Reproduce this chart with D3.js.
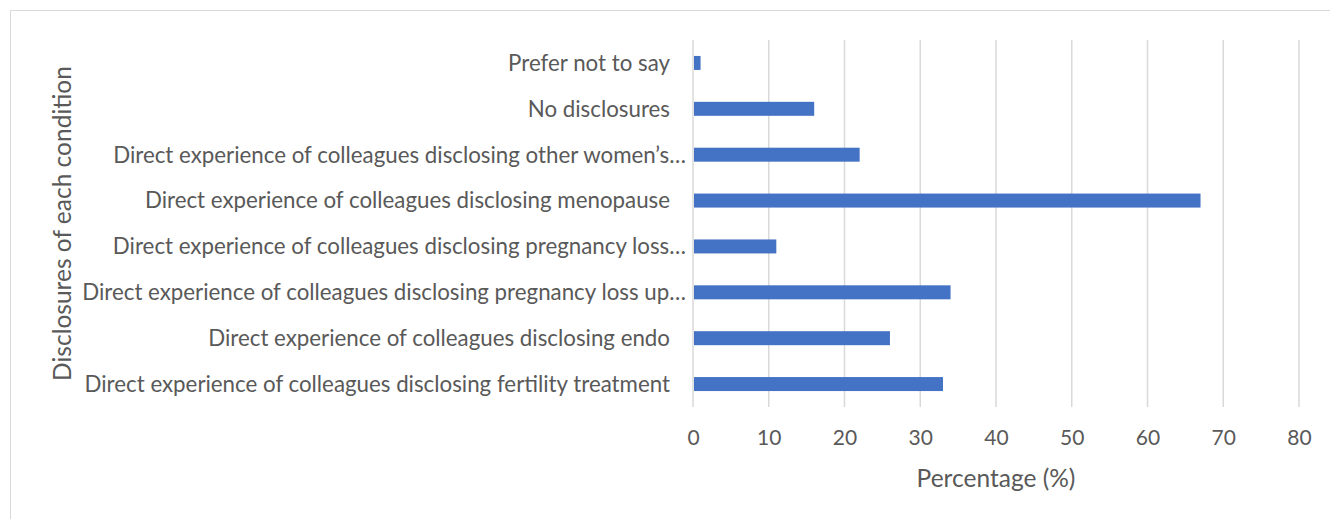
<!DOCTYPE html>
<html>
<head>
<meta charset="utf-8">
<script src="https://cdn.jsdelivr.net/npm/d3@7"></script>
<style>
  html, body { margin: 0; padding: 0; background: #fff; }
  svg { display: block; }
  text { font-family: Lato, "Open Sans", sans-serif; fill: #595959; }
</style>
</head>
<body>
<svg id="chart" width="1330" height="519"></svg>
<script>
// Survey categories, listed top to bottom as drawn
const categories = [
  "Prefer not to say",
  "No disclosures",
  "Direct experience of colleagues disclosing other women’s…",
  "Direct experience of colleagues disclosing menopause",
  "Direct experience of colleagues disclosing pregnancy loss…",
  "Direct experience of colleagues disclosing pregnancy loss up…",
  "Direct experience of colleagues disclosing endo",
  "Direct experience of colleagues disclosing fertility treatment"
];
// Percentage of respondents for each category
const percentages = [1, 16, 22, 67, 11, 34, 26, 33];
const xTicks = [0, 10, 20, 30, 40, 50, 60, 70, 80];
const xTitle = "Percentage (%)";
const yTitle = "Disclosures of each condition";

const svg = d3.select("#chart");
const W = 1330, H = 519;
const plot = { left: 693, right: 1299, top: 40, bottom: 407 };

// Chart frame
svg.append("rect")
  .attr("x", 10.5).attr("y", 10.5)
  .attr("width", W + 10).attr("height", H + 10)
  .attr("fill", "#fff").attr("stroke", "#d9d9d9").attr("stroke-width", 1);

const x = d3.scaleLinear().domain([0, 80]).range([plot.left, plot.right]);
const y = d3.scaleBand().domain(categories).range([plot.top, plot.bottom]).paddingInner(0.695).paddingOuter(0.3475);

// Vertical gridlines
svg.append("g").selectAll("line").data(xTicks).join("line")
  .attr("x1", d => x(d)).attr("x2", d => x(d))
  .attr("y1", plot.top).attr("y2", plot.bottom)
  .attr("stroke", "#d9d9d9").attr("stroke-width", 1.5);

// Bars
svg.append("g").selectAll("rect").data(categories).join("rect")
  .attr("x", x(0) + 1)
  .attr("y", d => y(d))
  .attr("width", (d, i) => x(percentages[i]) - x(0) - 1)
  .attr("height", y.bandwidth())
  .attr("fill", "#4472c4");

// X axis tick labels
const xAxis = d3.axisBottom(x).tickValues(xTicks).tickSize(0).tickPadding(0);
const gx = svg.append("g").attr("transform", `translate(0, 438)`).call(xAxis);
gx.select(".domain").remove();
gx.selectAll("text")
  .attr("dy", "0.35em").attr("y", 0)
  .style("font-size", "21px").style("font-family", "Lato, 'Open Sans', sans-serif").attr("fill", "#595959");

// Category labels
const yAxis = d3.axisLeft(y).tickSize(0).tickPadding(0);
const gy = svg.append("g").attr("transform", `translate(${plot.left}, 0)`).call(yAxis);
gy.select(".domain").remove();
gy.selectAll("text")
  .attr("x", d => d.endsWith("…") ? -7 : -23)
  .attr("dy", "0.35em")
  .style("font-size", "22.3px").style("font-family", "Lato, 'Open Sans', sans-serif").attr("fill", "#595959");

// Axis titles
svg.append("text")
  .attr("x", (plot.left + plot.right) / 2).attr("y", 478)
  .attr("text-anchor", "middle").attr("dy", "0.35em")
  .style("font-size", "24.5px")
  .text(xTitle);

svg.append("text")
  .attr("transform", `translate(62, ${(plot.top + plot.bottom) / 2}) rotate(-90)`)
  .attr("text-anchor", "middle").attr("dy", "0.35em")
  .style("font-size", "24.5px")
  .text(yTitle);
</script>
</body>
</html>
